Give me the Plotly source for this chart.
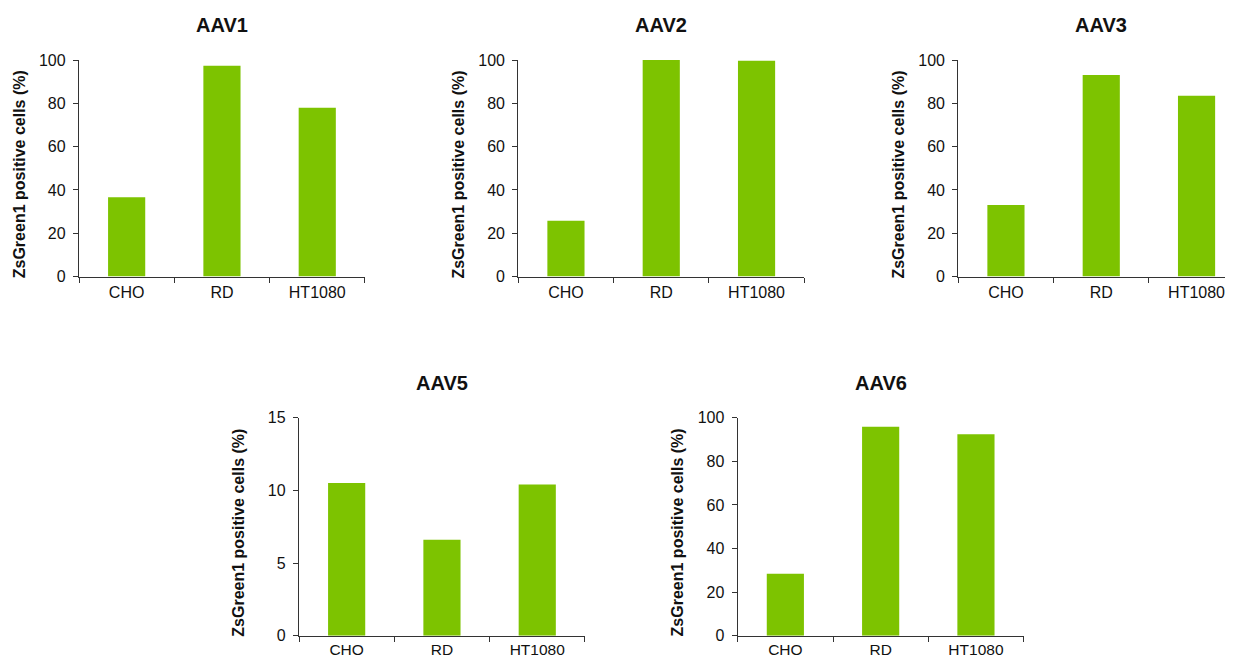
import plotly.graph_objects as go

# ---------------- data ----------------
categories = ["CHO", "RD", "HT1080"]
panel_titles = ["AAV1", "AAV2", "AAV3", "AAV5", "AAV6"]
aav1 = [36.6, 97.4, 78.0]
aav2 = [25.8, 100.3, 99.7]
aav3 = [33.0, 93.1, 83.5]
aav5 = [10.5, 6.6, 10.4]
aav6 = [28.4, 95.9, 92.4]
series = [aav1, aav2, aav3, aav5, aav6]
y_max = [100, 100, 100, 15, 100]
y_ticks = [[0, 20, 40, 60, 80, 100]] * 3 + [[0, 5, 10, 15], [0, 20, 40, 60, 80, 100]]
y_title = "ZsGreen1 positive cells (%)"

# ---------------- layout geometry ----------------
PAGE_OFF = 8          # default body margin of the html page
W, H = 1233 - PAGE_OFF, 657 - PAGE_OFF
CAT_PX = 95.3
# (axis left, right, top, bottom) in screen pixels
boxes = [
    (79, 79 + 3 * CAT_PX, 60, 276.5),
    (518.3, 518.3 + 3 * CAT_PX, 60, 276.5),
    (958.3, 1233, 60, 276.5),
    (299, 299 + 3 * CAT_PX, 417.7, 635.7),
    (737.7, 737.7 + 3 * CAT_PX, 417.7, 635.7),
]


def px_x(v):
    return (v - PAGE_OFF) / W


def px_y(v):
    return 1 - (v - PAGE_OFF) / H


BAR_COLOR = "#7DC300"
AX_COLOR = "#333333"
TXT = "#111111"
FONT = "Liberation Sans, Arial, Helvetica, sans-serif"

fig = go.Figure()
layout = dict(
    width=W, height=H,
    margin=dict(l=0, r=0, t=0, b=0, autoexpand=False),
    paper_bgcolor="white", plot_bgcolor="white",
    showlegend=False,
    font=dict(family=FONT, color=TXT, size=16),
    annotations=[],
)

for i, (vals, ttl, ymx, yt, (l, r, t, b)) in enumerate(
        zip(series, panel_titles, y_max, y_ticks, boxes)):
    n = "" if i == 0 else str(i + 1)
    xa, ya = "x" + n, "y" + n
    bottom_row = i >= 3
    fig.add_trace(go.Bar(x=categories, y=vals, xaxis=xa, yaxis=ya,
                         marker=dict(color=BAR_COLOR, line=dict(width=0)),
                         width=0.39, hoverinfo="x+y"))
    right_val = -0.5 + (r - l) / CAT_PX
    layout["xaxis" + n] = dict(
        domain=[px_x(l), min(px_x(r), 1.0)], anchor=ya,
        type="category", range=[-0.5, right_val], automargin=False,
        showline=True, linecolor=AX_COLOR, linewidth=1.3,
        ticks="outside", tickson="boundaries", ticklen=5, tickwidth=1.3,
        tickcolor=AX_COLOR, showgrid=False, zeroline=False,
        tickfont=dict(size=15.5 if bottom_row else 16, color=TXT, family=FONT),
        ticklabelstandoff=0 if bottom_row else 1,
    )
    layout["yaxis" + n] = dict(
        domain=[px_y(b), px_y(t)], anchor=xa,
        range=[0, ymx], tickvals=yt, automargin=False,
        showline=True, linecolor=AX_COLOR, linewidth=1.3,
        ticks="outside", ticklen=5, tickwidth=1.3, tickcolor=AX_COLOR,
        showgrid=False, zeroline=False,
        tickfont=dict(size=16, color=TXT, family=FONT),
        ticklabelstandoff=4,
    )
    # panel title
    layout["annotations"].append(dict(
        text="<b>" + ttl + "</b>", xref="paper", yref="paper",
        x=px_x(l + 1.5 * CAT_PX), y=px_y(t - 35),
        xanchor="center", yanchor="middle", showarrow=False,
        font=dict(size=20, color=TXT, family=FONT),
    ))
    # y-axis title
    layout["annotations"].append(dict(
        text="<b>" + y_title + "</b>", xref="paper", yref="paper",
        x=px_x(l - 60), y=px_y((t + b) / 2 + 6),
        xanchor="center", yanchor="middle", textangle=-90, showarrow=False,
        font=dict(size=16, color=TXT, family=FONT),
    ))

fig.update_layout(**layout)
fig.write_html("out.html")
